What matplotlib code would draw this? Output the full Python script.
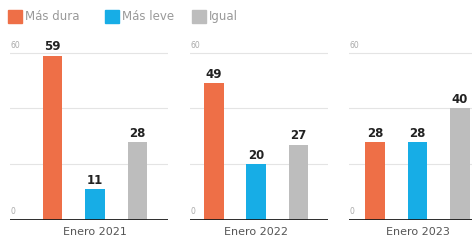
import matplotlib.pyplot as plt
from matplotlib.patches import Rectangle

# data
periods = ['Enero 2021', 'Enero 2022', 'Enero 2023']
series = ['Más dura', 'Más leve', 'Igual']
mas_dura = [59, 49, 28]
mas_leve = [11, 20, 28]
igual = [28, 27, 40]
colors = ['#EE6F47', '#17ADE6', '#BDBDBD']

W, H = 472, 246
fig = plt.figure(figsize=(W / 100, H / 100), dpi=100)

# panel placement in pixels: (left, right, xlim_left, xlim_right)
panels = [(10, 168, -1.0, 2.72), (190, 328, -0.565, 2.70), (349, 472, -0.61, 2.28)]
y0_px, top_px = 220, 36
ymax = 66

for i, (l, r, xl, xr) in enumerate(panels):
    ax = fig.add_axes([l / W, 1 - y0_px / H, (r - l) / W, (y0_px - top_px) / H])
    vals = [mas_dura[i], mas_leve[i], igual[i]]
    ax.bar(range(3), vals, width=0.46, color=colors, zorder=2)
    for x, v in enumerate(vals):
        ax.text(x, v + 0.8, str(v), ha='center', va='bottom',
                fontsize=8.5, fontweight='bold', color='#222222')
    for g in [20, 40, 60]:
        ax.axhline(g, color='#E4E4E4', lw=0.8, zorder=0)
    ax.axhline(0, color='#1a1a1a', lw=2, zorder=3)
    # y labels
    ax.text(xl + 0.02, 61, '60', fontsize=5.5, color='#AAAAAA', ha='left', va='bottom')
    ax.text(xl + 0.02, 1.5, '0', fontsize=5.5, color='#AAAAAA', ha='left', va='bottom')
    ax.text(1, -2.5, periods[i], ha='center', va='top', fontsize=8, color='#555555')
    ax.set_xlim(xl, xr)
    ax.set_ylim(0, ymax)
    ax.axis('off')

# legend
leg_x = [8, 105, 192]
for x, lab, c in zip(leg_x, series, colors):
    fig.patches.append(Rectangle((x / W, 1 - 23 / H), 14 / W, 13 / H,
                                 transform=fig.transFigure, color=c))
    fig.text((x + 17) / W, 1 - 16.5 / H, lab, fontsize=8.5, color='#999999',
             ha='left', va='center')

fig.savefig('out.png', dpi=100)
